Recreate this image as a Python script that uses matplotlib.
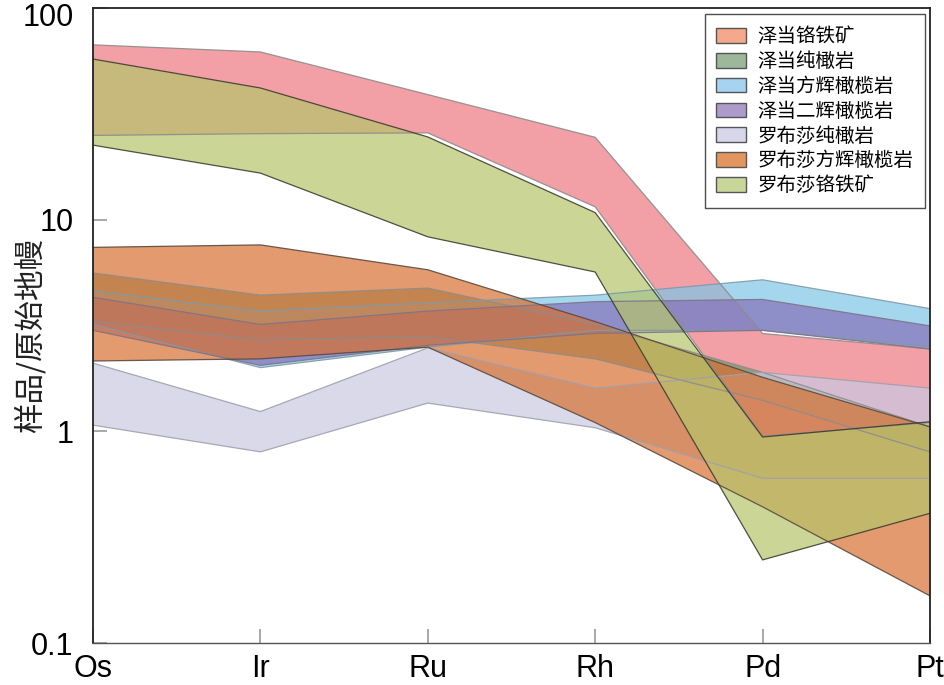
import matplotlib
matplotlib.use("Agg")
import matplotlib.pyplot as plt
import matplotlib.transforms as mtransforms
from matplotlib.patches import Patch
import numpy as np

plt.rcParams["font.family"] = ["Liberation Sans", "DejaVu Sans"]
CJK = ["Noto Sans CJK SC", "DejaVu Sans"]

elements = ["Os", "Ir", "Ru", "Rh", "Pd", "Pt"]

# upper / lower envelopes of each group (sample / primitive mantle)
zd_chromitite_hi = [67, 62, 39, 24.5, 2.9, 2.45]
zd_chromitite_lo = [25, 25.5, 25.7, 11.5, 0.95, 1.1]
zd_dunite_hi = [5.6, 4.4, 4.75, 3.2, 1.9, 1.05]
zd_dunite_lo = [3.3, 2.7, 2.8, 2.2, 1.4, 0.8]
zd_harz_hi = [4.6, 3.7, 4.05, 4.4, 5.2, 3.8]
zd_harz_lo = [3.2, 2.0, 2.5, 3.0, 3.0, 2.5]
zd_lherz_hi = [4.3, 3.2, 3.7, 4.1, 4.2, 3.15]
zd_lherz_lo = [3.0, 2.05, 2.55, 2.9, 3.0, 2.45]
lbs_dunite_hi = [2.1, 1.24, 2.48, 1.6, 1.9, 1.6]
lbs_dunite_lo = [1.07, 0.8, 1.36, 1.04, 0.6, 0.6]
lbs_harz_hi = [7.4, 7.6, 5.8, 3.3, 1.8, 1.05]
lbs_harz_lo = [2.15, 2.2, 2.5, 1.1, 0.44, 0.167]
lbs_chromitite_hi = [57.4, 41.9, 24.6, 10.8, 0.94, 1.11]
lbs_chromitite_lo = [22.5, 16.6, 8.3, 5.66, 0.247, 0.41]

labels = ["泽当铬铁矿", "泽当纯橄岩", "泽当方辉橄榄岩", "泽当二辉橄榄岩",
          "罗布莎纯橄岩", "罗布莎方辉橄榄岩", "罗布莎铬铁矿"]

bands = [
    (zd_chromitite_hi, zd_chromitite_lo, "#ef7780", "#8c8c8c"),
    (zd_dunite_hi, zd_dunite_lo, "#709870", "#8c8c8c"),
    (zd_harz_hi, zd_harz_lo, "#7ec6e7", "#7f9aa8"),
    (zd_lherz_hi, zd_lherz_lo, "#8670b8", "#7d7488"),
    (lbs_dunite_hi, lbs_dunite_lo, "#cac9e2", "#a0a0ae"),
    (lbs_harz_hi, lbs_harz_lo, "#d77030", "#5a4a40"),
    (lbs_chromitite_hi, lbs_chromitite_lo, "#b5c469", "#3e3e30"),
]
legend_colors = ["#f5a88c", "#9db79b", "#a6d3ef", "#ad9bcb",
                 "#d8d6ea", "#e3955f", "#c9d69a"]

fig = plt.figure(figsize=(9.45, 6.85), dpi=100)
ax = fig.add_axes([0.0984, 0.0613, 0.8857, 0.927])

x = np.arange(len(elements))
for hi, lo, fc, ec in bands:
    ax.fill_between(x, lo, hi, facecolor=fc, edgecolor="none", alpha=0.7)
    ax.plot(x, hi, color=ec, lw=0.9, alpha=0.9)
    ax.plot(x, lo, color=ec, lw=0.9, alpha=0.9)

ax.set_yscale("log")
ax.set_ylim(0.1, 100)
ax.set_xlim(0, len(elements) - 1)
ax.set_xticks(x)
ax.set_xticklabels(elements, fontsize=22)
ax.set_yticks([0.1, 1, 10, 100])
ax.set_yticklabels(["0.1", "1", "10", "100"], fontsize=22)
ax.minorticks_off()
ax.tick_params(axis="both", direction="in", length=10, width=1.2, color="#999999")
ax.tick_params(axis="x", pad=8)
ax.tick_params(axis="y", pad=14)
# keep the top label inside the figure
top_lab = ax.get_yticklabels()[-1]
top_lab.set_transform(top_lab.get_transform()
                      + mtransforms.ScaledTranslation(0, -6 / 100, fig.dpi_scale_trans))

for side in ["left", "top", "right"]:
    ax.spines[side].set_color("#222222")
    ax.spines[side].set_linewidth(1.3)
ax.spines["bottom"].set_color("#555555")
ax.spines["bottom"].set_linewidth(1.0)

ax.set_ylabel("样品/原始地幔", fontsize=22, family=CJK, color="#222222")
ax.yaxis.set_label_coords(-0.055, 0.485)

handles = [Patch(facecolor=c, edgecolor="#555555", linewidth=1.0) for c in legend_colors]
leg = ax.legend(handles, labels, loc="upper right", bbox_to_anchor=(0.994, 0.99),
                prop={"family": CJK, "size": 14},
                frameon=True, fancybox=False, borderpad=0.6, labelspacing=0.2,
                handlelength=1.5, handleheight=0.8, handletextpad=0.6, borderaxespad=0)
leg.get_frame().set_edgecolor("#222222")
leg.get_frame().set_linewidth(1.0)

fig.savefig("out.png", dpi=100)
